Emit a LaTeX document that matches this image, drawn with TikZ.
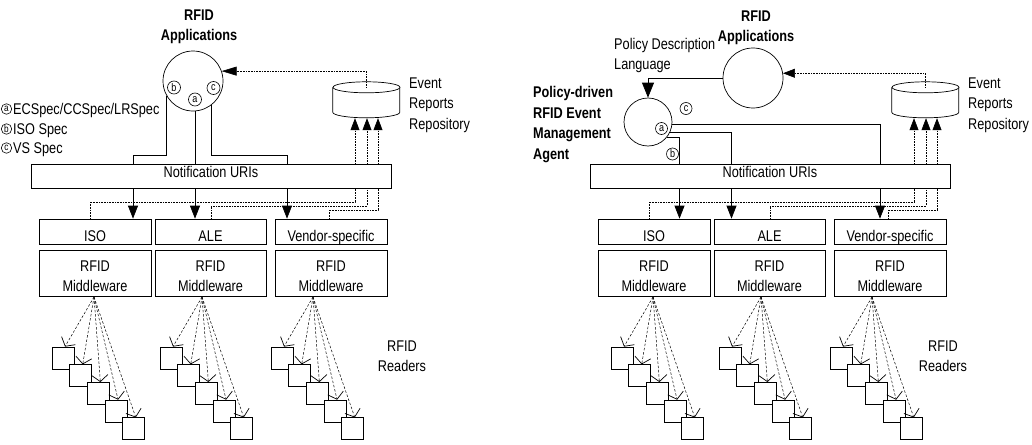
\documentclass[tikz,border=0pt]{standalone}
\usepackage{fontspec}
\setmainfont{Liberation Sans}[FakeStretch=0.82]
\usetikzlibrary{arrows.meta}
\pgfdeclarelayer{bg}
\pgfsetlayers{bg,main}
\newcommand\tfont{\fontsize{15.5}{20.5}\selectfont}
\tikzset{
  box/.style={draw, line width=0.7pt, inner sep=0pt, font=\tfont, align=center},
  ubox/.style={box, fill=white, minimum width=360pt, minimum height=24pt, text height=11.1pt, text depth=8pt},
  sbox/.style={box, minimum width=112pt, minimum height=25pt, text height=19.1pt, text depth=0pt},
  mbox/.style={box, minimum width=112pt, minimum height=46pt, text height=37.6pt, text depth=0pt},
  lbl/.style={inner sep=0pt, font=\tfont, align=left},
  blbl/.style={inner sep=0pt, font=\tfont\bfseries, align=center},
  appc/.style={circle, draw, fill=white, line width=0.7pt, minimum size=60pt, inner sep=0pt},
  letc/.style={circle, draw, fill=white, line width=0.6pt, minimum size=13pt, inner sep=0pt, font=\fontsize{11}{11}\selectfont},
  legc/.style={letc, minimum size=10.5pt, font=\fontsize{10}{10}\selectfont},
  reader/.style={draw, fill=white, line width=0.7pt, minimum size=22pt, inner sep=0pt},
  ray/.style={line width=0.5pt, dash pattern=on 2.5pt off 1.8pt, -{Straight Barb[length=6.5pt,width=16pt,line width=0.7pt]}},
  arr/.style={line width=0.7pt, -{Triangle[length=13pt,width=10pt]}},
  retarr/.style={line width=0.6pt, densely dotted, -{Triangle[length=12pt,width=9pt]}},
  cylline/.style={line width=0.7pt, fill=white}
}
\newcommand\lowerpart{%
  \node[ubox] (nuri) at (211,176) {Notification URIs};
  \node[sbox] (iso) at (95,231.5) {ISO};
  \node[sbox, minimum width=111pt] (ale) at (210.5,231.5) {ALE};
  \node[sbox] (vend) at (331,231.5) {Vendor-specific};
  \node[mbox] (mw1) at (95,273) {RFID\\Middleware};
  \node[mbox, minimum width=111pt] (mw2) at (210.5,273) {RFID\\Middleware};
  \node[mbox] (mw3) at (331,273) {RFID\\Middleware};
  % repository cylinder
  \node[inner sep=0pt, minimum width=67pt, minimum height=36pt] (repo) at (366.5,100) {};
  \draw[cylline] (repo.north west) ++(0,5.5) -- ++(0,25)
     arc[start angle=180, end angle=0, x radius=33.5, y radius=5.5] -- ++(0,-25);
  \draw[cylline] ([yshift=-5.5pt]repo.north) ellipse[x radius=33.5, y radius=5.5];
  \node[lbl, anchor=north west] (evt) at (409,77.5) {Event\\Reports\\Repository};
  \begin{pgfonlayer}{bg}
    \draw[retarr] ([xshift=-5pt]iso.north) |- (355,202) -- ([xshift=-11.5pt]repo.south);
    \draw[retarr] ([xshift=0.5pt]ale.north) |- (367,206) -- ([xshift=0.5pt]repo.south);
    \draw[retarr] ([xshift=-2pt]vend.north) |- (378,210) -- ([xshift=11.5pt]repo.south);
  \end{pgfonlayer}
  % readers
  \foreach \ox [count=\g] in {94,202,313} {
    \coordinate (o\g) at (\ox,297);
    \foreach \k in {0,...,4}
      \node[reader] (rd\g-\k) at ({\ox-31+17.7*\k},{358+17.7*\k}) {};
    \foreach \k in {0,...,4}
      \draw[ray] (o\g) -- ([xshift=2pt]rd\g-\k.north);
  }
}
\begin{document}
\begin{tikzpicture}[x=1pt,y=-1pt]
\useasboundingbox (0,0) rectangle (1032,444);

\begin{scope}[name prefix=L-]
  \lowerpart
\end{scope}
\begin{scope}[xshift=559pt, name prefix=R-]
  \lowerpart
\end{scope}

% ---------- left panel top ----------
\node[appc] (app1) at (193,81) {};
\node[blbl, anchor=north] (tapp1) at (199,9.5) {RFID\\Applications};
\node[letc] (lb) at (174,87.5) {b};
\node[letc] (la) at (195,99.5) {a};
\node[letc] (lc) at (213.5,88) {c};

\node[legc] (ga) at (6.5,109) {a};
\node[lbl, anchor=base west] (gat) at (13,114.5) {ECSpec/CCSpec/LRSpec};
\node[legc] (gb) at (6.5,129) {b};
\node[lbl, anchor=base west] (gbt) at (13,134.5) {ISO Spec};
\node[legc] (gc) at (6.5,148) {c};
\node[lbl, anchor=base west] (gct) at (13,153.5) {VS Spec};

\draw[retarr, -{Triangle[length=15pt,width=9pt]}] ([yshift=-5.5pt]L-repo.north) |- (app1.19.5);

\begin{pgfonlayer}{bg}
  \draw[arr] (app1.210) |- (133,155) -- ([xshift=38pt]L-iso.north);
  \draw[arr] (la.south) -- (la.south |- L-ale.north);
  \draw[arr] (app1.307) |- (287,155) -- ([xshift=-44pt]L-vend.north);
\end{pgfonlayer}

\node[lbl, align=center, anchor=north] (rr1) at (402,340.5) {RFID\\Readers};

% ---------- right panel top ----------
\node[appc] (app2) at (753,78) {};
\node[blbl, anchor=north] (tapp2) at (756,10.5) {RFID\\Applications};
\node[appc, minimum size=48pt] (agent) at (648,122) {};
\node[letc, minimum size=12pt] (ra) at (661.5,128.5) {a};
\node[letc, minimum size=12pt] (rc) at (686,108.5) {c};
\node[letc, minimum size=12pt] (rb) at (672.5,154) {b};
\node[lbl, anchor=north west] (pdl) at (614,38) {Policy Description\\Language};
\node[lbl, font=\tfont\bfseries, anchor=north west] (agt) at (533,86.5) {Policy-driven\\RFID Event\\Management\\Agent};

\draw[arr, -{Triangle[length=15pt,width=12pt]}] (app2.west) -| (agent.north);
\draw[retarr] ([yshift=-5.5pt]R-repo.north) |- (app2.9.6);

\begin{pgfonlayer}{bg}
  \draw[arr] (agent.-5) -| ([xshift=-10pt]R-vend.north);
  \draw[arr] (agent.-25) -| ([xshift=-38pt]R-ale.north);
  \draw[arr] (agent.-39) -| ([xshift=25.5pt]R-iso.north);
\end{pgfonlayer}

\node[lbl, align=center, anchor=north] (rr2) at (943,340.5) {RFID\\Readers};
\end{tikzpicture}
\end{document}
